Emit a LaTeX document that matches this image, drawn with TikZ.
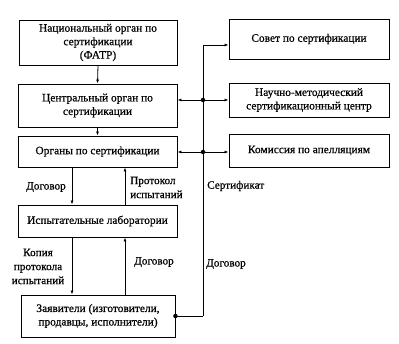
\documentclass[tikz,border=0pt]{standalone}
\usepackage{fontspec}
\setmainfont{Liberation Serif}[FakeBold=0.6]
\usetikzlibrary{arrows.meta}
\begin{document}
\begin{tikzpicture}[x=1pt,y=-1pt,
  box/.style={draw,line width=0.9pt,inner sep=1pt,align=center,font=\fontsize{11.4}{13.5}\selectfont},
  lbl/.style={align=left,inner sep=0pt,font=\fontsize{11.2}{14}\selectfont},
  arr/.style={line width=0.8pt,-{Latex[length=4pt,width=3pt]}},
  ln/.style={line width=0.8pt},
  dot/.style={circle,fill,inner sep=0pt,minimum size=4.5pt}]
\useasboundingbox (0,0) rectangle (399,343);
\node[box,minimum width=158pt,minimum height=45pt] (b1) at (98,42.5) {Национальный орган по\\сертификации\\(ФАТР)};
\node[box,minimum width=159pt,minimum height=43pt] (b2) at (97.5,105.5) {Центральный орган по\\сертификации};
\node[box,minimum width=159pt,minimum height=31pt] (b3) at (97.5,151.5) {Органы по сертификации};
\node[box,minimum width=159pt,minimum height=32pt] (b4) at (97.5,221) {Испытательные лаборатории};
\node[box,minimum width=154pt,minimum height=42pt] (b5) at (98,316) {Заявители (изготовители,\\продавцы, исполнители)};
\node[box,minimum width=160pt,minimum height=40pt] (r1) at (309,39) {Совет по сертификации};
\node[box,minimum width=160pt,minimum height=34pt] (r2) at (309,100) {Научно-методический\\сертификационный центр};
\node[box,minimum width=160pt,minimum height=33pt] (r3) at (309,150.5) {Комиссия по апелляциям};
% vertical bus
\coordinate (vt) at (203,45);
\coordinate (j1) at (203,100);
\coordinate (j2) at (203,152);
\coordinate (vb) at (203,316);
\draw[ln] (vb) -- (vt);
\draw[arr] (vt) -- (vt -| r1.west);
\draw[arr] (j1) -- (j1 -| r2.west);
\draw[arr] (j1) -- (j1 -| b2.east);
\draw[arr] (j2) -- (j2 -| r3.west);
\draw[arr] (j2) -- (j2 -| b3.east);
\node[dot] at (j1) {};
\node[dot] at (j2) {};
\draw[ln] (vb -| b5.east) -- (vb);
\node[dot] at (vb -| b5.east) {};
% vertical arrows
\draw[arr] (b1.south) -- (b2.north);
\draw[arr] (b2.south) -- (b3.north);
\coordinate (xl) at (72,0);
\coordinate (xr) at (125,0);
\draw[arr] (b3.south -| xl) -- (b4.north -| xl);
\draw[arr] (b4.north -| xr) -- (b3.south -| xr);
\draw[arr] (b4.south -| xl) -- (b5.north -| xl);
\draw[arr] (b5.north -| xr) -- (b4.south -| xr);
% labels
\node[lbl,anchor=west] (t1) at (26,187) {Договор};
\node[lbl,anchor=west] (t2) at (130,187.5) {Протокол\\испытаний};
\node[lbl,anchor=center,align=center] (t3) at (38,266.5) {Копия\\протокола\\испытаний};
\node[lbl,anchor=west] (t4) at (134,262) {Договор};
\node[lbl,anchor=west] (t5) at (207,186) {Сертификат};
\node[lbl,anchor=west] (t6) at (206,264) {Договор};
\end{tikzpicture}
\end{document}
